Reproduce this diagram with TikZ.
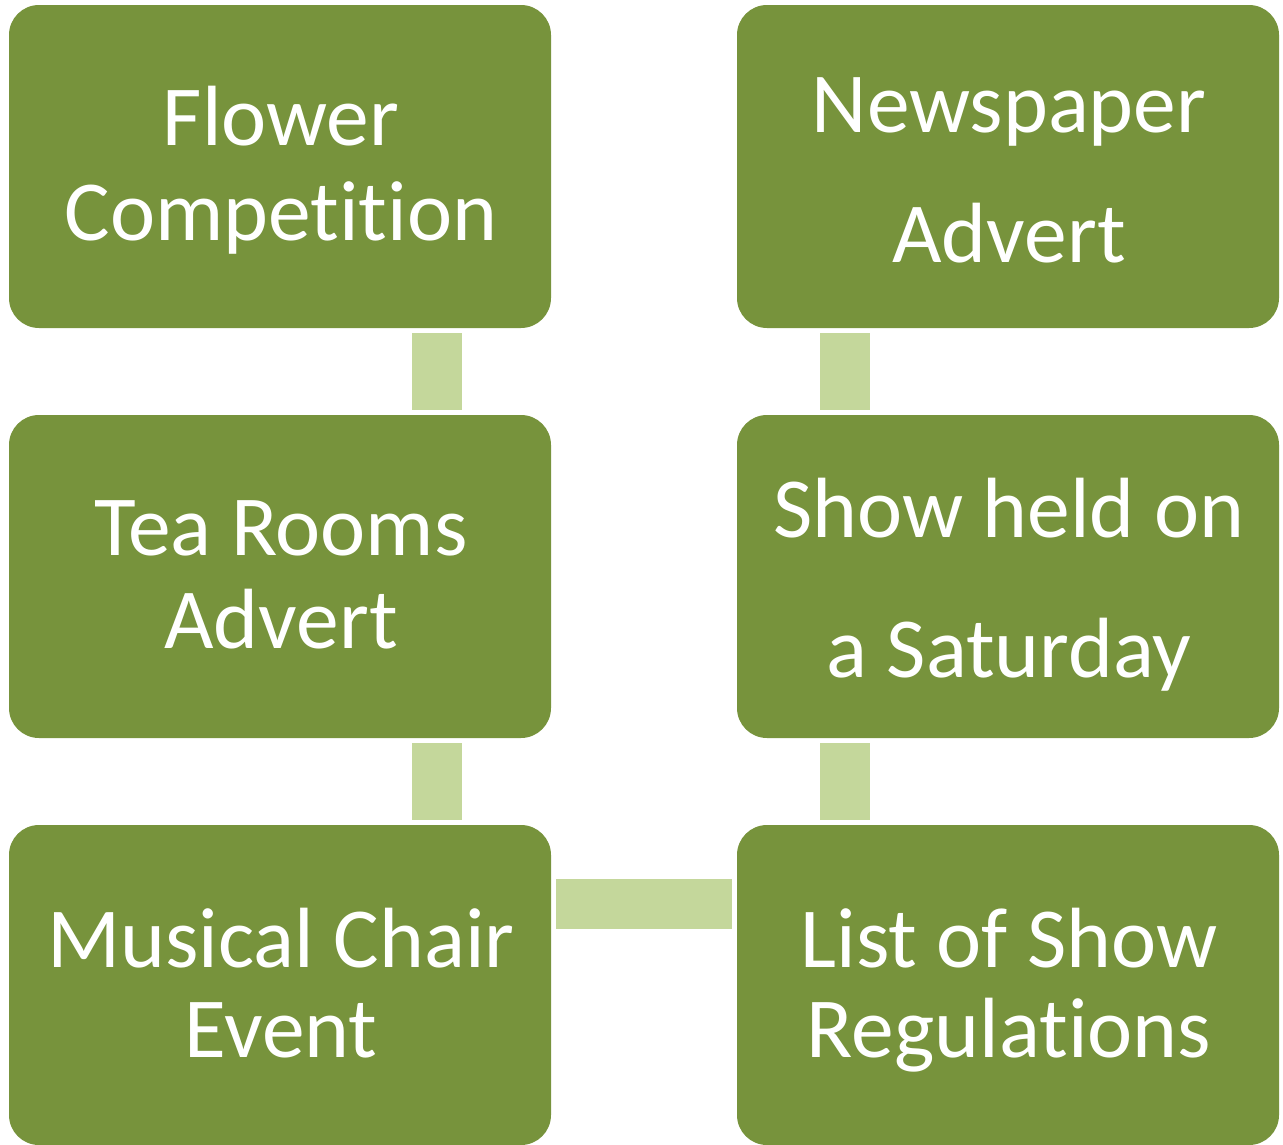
\documentclass[tikz,border=0pt]{standalone}
\usepackage{fontspec}
\setmainfont{Carlito}[Ligatures={NoCommon},RawFeature={-liga;-clig}]
\definecolor{boxgreen}{HTML}{77933C}
\definecolor{bargreen}{HTML}{C4D79B}
\begin{document}
\begin{tikzpicture}[x=1pt,y=-1pt,
  box/.style={fill=boxgreen,draw=none,rounded corners=30pt,minimum width=542pt,minimum height=323pt,inner sep=0pt},
  txt/.style={text=white,anchor=base,inner sep=0pt,font=\fontsize{85.5}{100}\selectfont},
  conn/.style={draw=bargreen,line width=50pt,line cap=butt,shorten <=5pt,shorten >=5pt}]
\useasboundingbox (0,0) rectangle (1283,1144);
% boxes
\node[box] (b1) at (280,166.5) {};
\node[box] (b2) at (280,576.5) {};
\node[box,minimum height=320pt] (b3) at (280,985) {};
\node[box] (b4) at (1008,166.5) {};
\node[box] (b5) at (1008,576.5) {};
\node[box,minimum height=320pt] (b6) at (1008,985) {};
% connectors
\draw[conn] ([xshift=157pt]b1.south) -- ([xshift=157pt]b2.north);
\draw[conn] ([xshift=157pt]b2.south) -- ([xshift=157pt]b3.north);
\draw[conn] ([yshift=81pt]b3.east) -- ([yshift=81pt]b6.west);
\draw[conn] ([xshift=-163pt]b6.north) -- ([xshift=-163pt]b5.south);
\draw[conn] ([xshift=-163pt]b5.north) -- ([xshift=-163pt]b4.south);
% texts
\node[txt] (t1a) at (281,145) {Flower};
\node[txt] (t1b) at (281,240) {Competition};
\node[txt] (t2a) at (281,555) {Tea Rooms};
\node[txt] (t2b) at (281,648) {Advert};
\node[txt] (t3a) at (281,967) {Musical Chair};
\node[txt] (t3b) at (281,1057) {Event};
\node[txt] (t4a) at (1009,132) {Newspaper};
\node[txt] (t4b) at (1009,262) {Advert};
\node[txt] (t5a) at (1009,537) {Show held on};
\node[txt] (t5b) at (1009,677) {a Saturday};
\node[txt] (t6a) at (1009,967) {List of Show};
\node[txt] (t6b) at (1009,1057) {Regulations};
\end{tikzpicture}
\end{document}
